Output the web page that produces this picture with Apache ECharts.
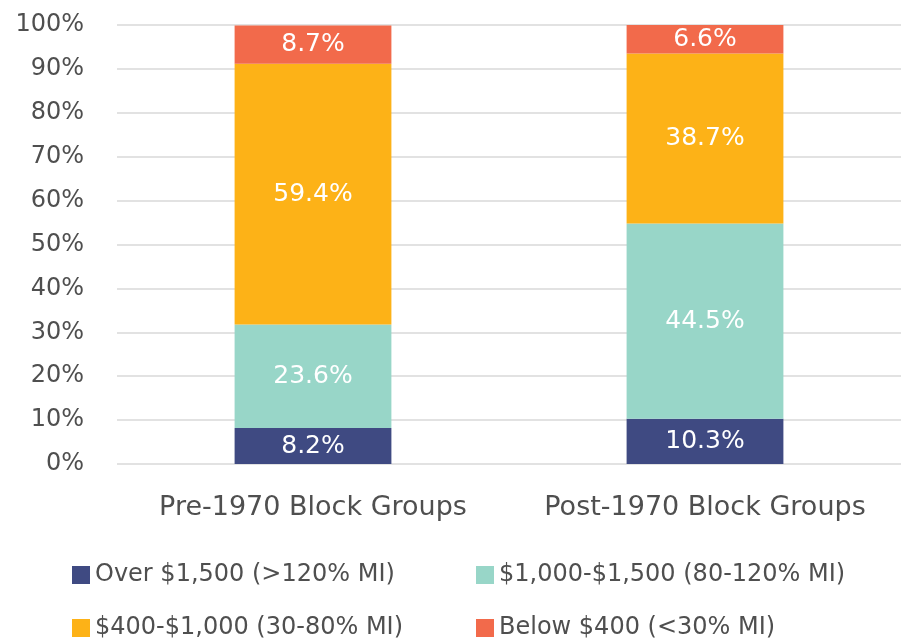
<!DOCTYPE html>
<html>
<head>
<meta charset="utf-8">
<script src="https://cdn.jsdelivr.net/npm/echarts@6/dist/echarts.min.js"></script>
<style>
  html, body { margin: 0; padding: 0; background: #fff; }
  #chart { width: 901px; height: 640px; }
</style>
</head>
<body>
<div id="chart"></div>
<script>
// Share of rental units by rent band, by block-group construction era
const categories = ['Pre-1970 Block Groups', 'Post-1970 Block Groups'];
const seriesNames = [
  'Over $1,500 (>120% MI)',
  '$1,000-$1,500 (80-120% MI)',
  '$400-$1,000 (30-80% MI)',
  'Below $400 (<30% MI)'
];
const over1500 = [8.2, 10.3];
const from1000to1500 = [23.6, 44.5];
const from400to1000 = [59.4, 38.7];
const below400 = [8.7, 6.6];
const yTicks = [0, 10, 20, 30, 40, 50, 60, 70, 80, 90, 100];

const colors = ['#3f4a82', '#98d6c8', '#fdb217', '#f26a4b'];
const values = [over1500, from1000to1500, from400to1000, below400];
const FONT = 'DejaVu Sans';
const TEXT = '#4f4f4f';

const chart = echarts.init(document.getElementById('chart'));

const series = seriesNames.map((name, i) => ({
  name: name,
  type: 'bar',
  stack: 'total',
  barWidth: '40%',
  data: values[i],
  itemStyle: { color: colors[i] },
  label: {
    show: true,
    position: 'inside',
    color: '#ffffff',
    fontFamily: FONT,
    fontSize: 25,
    formatter: p => p.value.toFixed(1) + '%'
  }
}));

// one legend block per entry so columns line up
const legendPos = [
  { left: 67, top: 558 },
  { left: 471, top: 558 },
  { left: 67, top: 611 },
  { left: 471, top: 611 }
];
const legends = seriesNames.map((name, i) => ({
  data: [name],
  left: legendPos[i].left,
  top: legendPos[i].top,
  itemWidth: 18,
  itemHeight: 18,
  itemGap: 0,
  icon: 'rect',
  textStyle: { color: TEXT, fontFamily: FONT, fontSize: 24 },
  selectedMode: false
}));

chart.setOption({
  animation: false,
  grid: { left: 117, right: 0, top: 25, bottom: 176 },
  legend: legends,
  xAxis: {
    type: 'category',
    data: categories,
    axisLine: { show: false },
    axisTick: { show: false },
    axisLabel: { color: TEXT, fontFamily: FONT, fontSize: 27, margin: 30, interval: 0 }
  },
  yAxis: {
    type: 'value',
    min: 0,
    max: 100,
    interval: 10,
    axisLine: { show: false },
    axisTick: { show: false },
    splitLine: { lineStyle: { color: '#e2e2e2', width: 2 } },
    axisLabel: {
      color: TEXT,
      fontFamily: FONT,
      fontSize: 24,
      margin: 33,
      formatter: v => yTicks.includes(v) ? v + '%' : ''
    }
  },
  series: series
});
</script>
</body>
</html>
